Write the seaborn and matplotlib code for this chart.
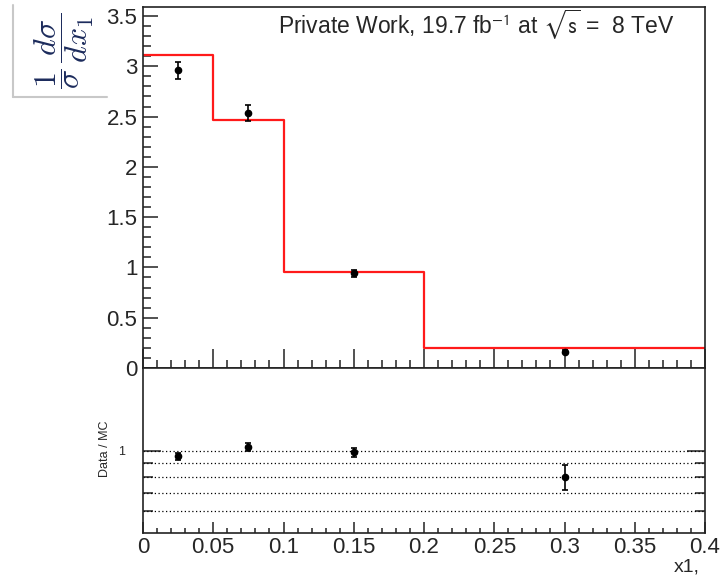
import numpy as np
import pandas as pd
import matplotlib
matplotlib.use("Agg")
import matplotlib.pyplot as plt
import seaborn as sns
from matplotlib.lines import Line2D
from matplotlib.ticker import (MultipleLocator, FixedLocator, NullFormatter,
                               FuncFormatter)

# Normalised cross section in bins of x1
bin_edges = [0.0, 0.05, 0.1, 0.2, 0.4]
mc_xsec = [3.114, 2.465, 0.954, 0.202]
data_x = [0.025, 0.075, 0.15, 0.3]
data_xsec = [2.962, 2.535, 0.941, 0.162]
data_err = [0.085, 0.08, 0.035, 0.017]
ratio_grid = [0.6, 0.7, 0.8, 0.9, 1.0]

sns.set_theme(style="white")
plt.rcParams['font.family'] = ['Liberation Sans', 'DejaVu Sans']
plt.rcParams['mathtext.fontset'] = 'cm'

W, H = 724, 577
fig = plt.figure(figsize=(W / 100, H / 100), dpi=100)
fig.patch.set_facecolor("white")


def box(x0, y0, x1, y1):
    return [x0 / W, 1 - y1 / H, (x1 - x0) / W, (y1 - y0) / H]


ax = fig.add_axes(box(143, 7, 705, 368))
rax = fig.add_axes(box(143, 368, 705, 533))

edges = np.array(bin_edges)
centers = 0.5 * (edges[:-1] + edges[1:])
mc = pd.DataFrame({"x1": centers, "xsec": mc_xsec})

# MC prediction as a step histogram
sns.histplot(data=mc, x="x1", weights="xsec", bins=bin_edges, element="step",
             fill=False, color="#ff1a1a", linewidth=1.6, ax=ax)

# Data points
ax.errorbar(data_x, data_xsec, yerr=data_err, fmt="o", color="black",
            ms=4.5, capsize=2.5, elinewidth=1.2, capthick=1.2, zorder=5)

# Data / MC ratio
idx = np.digitize(data_x, edges) - 1
mc_at_x = np.array(mc_xsec)[idx]
ratio = np.array(data_xsec) / mc_at_x
ratio_err = np.array(data_err) / mc_at_x

rax.set_yscale("log")
for g in ratio_grid:
    rax.axhline(g, color="black", ls=(0, (1, 2)), lw=0.9, zorder=1)
rax.errorbar(data_x, ratio, yerr=ratio_err, fmt="o", color="black",
             ms=4.5, capsize=2.5, elinewidth=1.2, capthick=1.2, zorder=5)

fmt_g = FuncFormatter(lambda v, p: f"{v:g}")

for a in (ax, rax):
    a.set_xlim(0, 0.4)
    a.xaxis.set_major_locator(MultipleLocator(0.05))
    a.xaxis.set_minor_locator(MultipleLocator(0.01))
    a.set_xlabel("")
    a.set_ylabel("")
    for s in a.spines.values():
        s.set_color("#222222")
        s.set_linewidth(1.2)
        s.set_zorder(10)
    a.set_facecolor("white")

ax.set_ylim(0, 3.59)
ax.yaxis.set_major_locator(MultipleLocator(0.5))
ax.yaxis.set_minor_locator(MultipleLocator(0.1))
ax.yaxis.set_major_formatter(fmt_g)
ax.tick_params(axis="x", which="both", direction="in", bottom=True, top=False,
               labelbottom=False, color="#222222", width=1.1)
ax.tick_params(axis="x", which="major", length=14)
ax.tick_params(axis="x", which="minor", length=6)
ax.tick_params(axis="y", which="both", direction="in", left=True, right=False,
               labelsize=16, pad=4, color="#222222", width=1.1)
ax.tick_params(axis="y", which="major", length=11)
ax.tick_params(axis="y", which="minor", length=6)

rax.set_ylim(0.5, 2.0)
rax.yaxis.set_major_locator(FixedLocator([1.0]))
rax.yaxis.set_minor_locator(FixedLocator([0.6, 0.7, 0.8, 0.9]))
rax.yaxis.set_major_formatter(fmt_g)
rax.yaxis.set_minor_formatter(NullFormatter())
rax.xaxis.set_major_formatter(fmt_g)
rax.tick_params(axis="x", which="both", direction="in", bottom=True, top=False,
                labelsize=16, pad=3, color="#222222", width=1.1)
rax.tick_params(axis="x", which="major", length=8)
rax.tick_params(axis="x", which="minor", length=3.5)
rax.tick_params(axis="y", which="both", direction="in", left=True, right=True,
                labelsize=9, pad=13, color="#222222", width=1.1)
rax.tick_params(axis="y", which="major", length=13)
rax.tick_params(axis="y", which="minor", length=7)

# Axis titles and header
fig.text(64 / W, 1 - 51 / H,
         r"$\dfrac{1}{\sigma}\,\dfrac{d\sigma}{dx_1}$",
         rotation=90, ha="center", va="center", fontsize=23, color="#1c2b5c")
fig.add_artist(Line2D([13 / W, 13 / W], [1 - 5 / H, 1 - 97 / H],
                      color="#c8c8c8", lw=1.5))
fig.add_artist(Line2D([13 / W, 107 / W], [1 - 97 / H, 1 - 97 / H],
                      color="#c8c8c8", lw=1.5))

fig.text(278 / W, 1 - 25 / H,
         r"Private Work, 19.7 fb$^{\mathrm{-1}}$ at $\sqrt{\mathrm{s}}$ =  8 TeV",
         ha="left", va="center", fontsize=16.5, math_fontfamily="stixsans")
fig.text(105 / W, 1 - 449 / H, "Data / MC", rotation=90, fontsize=9,
         ha="center", va="center")
fig.text(700 / W, 1 - 567 / H, "x1,", ha="right", va="center", fontsize=14)

fig.savefig("out.png", dpi=100, facecolor="white")
